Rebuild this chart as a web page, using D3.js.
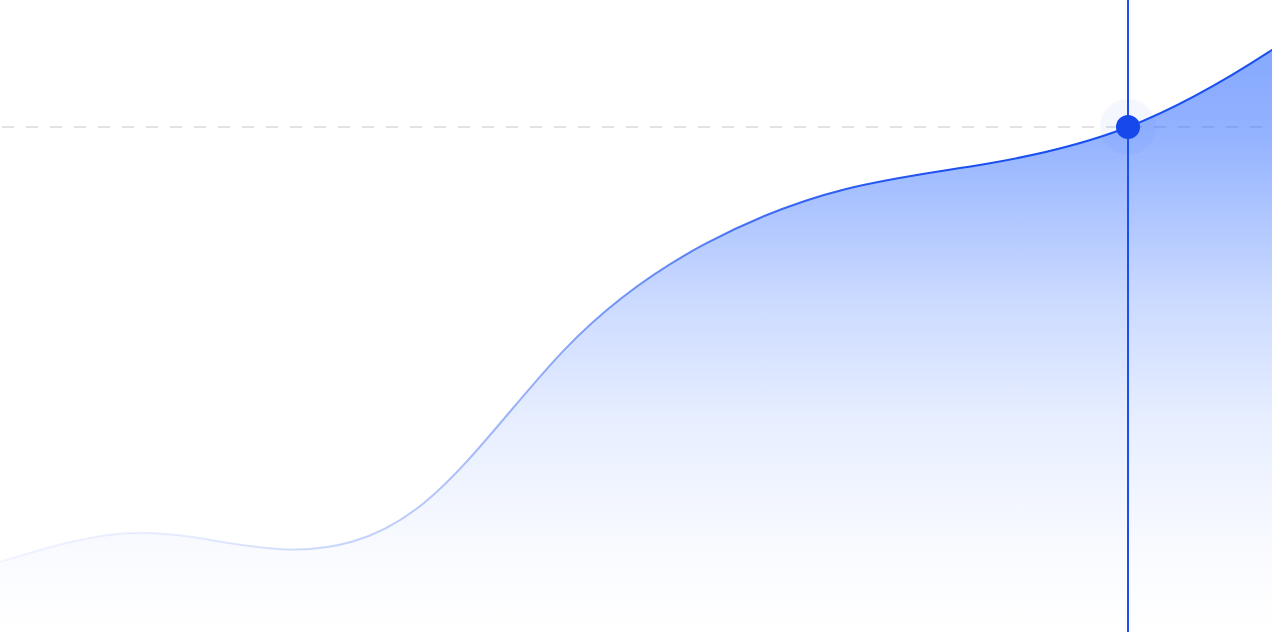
<!DOCTYPE html>
<html>
<head>
<meta charset="utf-8">
<script src="https://cdn.jsdelivr.net/npm/d3@7"></script>
<style>
  html, body { margin: 0; padding: 0; background: #ffffff; overflow: hidden; }
  #chart { width: 1272px; height: 632px; }
</style>
</head>
<body>
<div id="chart"></div>
<script>
// data (the last point sits just past the right edge)
const points = [0, 1, 2, 3, 4, 5, 6, 7, 8, 9, 10]
const values = [11.1, 15.7, 13.1, 20.3, 44.6, 61.4, 70.1, 74.1, 79.9, 91.8, 107.6]
const activeIndex = 8

const width = 1272
const height = 632
const blue = '#1a4ff0'

const x = d3.scaleLinear().domain([0, 9]).range([0, 1269])
const y = d3.scaleLinear().domain([0, 100]).range([height, 0])

const svg = d3.select('#chart')
  .append('svg')
  .attr('width', width)
  .attr('height', height)
  .style('overflow', 'hidden')

const defs = svg.append('defs')

// area fill fades towards the bottom
const fillGrad = defs.append('linearGradient')
  .attr('id', 'fillGrad')
  .attr('gradientUnits', 'userSpaceOnUse')
  .attr('x1', 0).attr('x2', 0)
  .attr('y1', 0).attr('y2', height)
const fillStops = [[0, 0.62], [0.08, 0.58], [0.21, 0.52], [0.475, 0.25], [0.665, 0.115], [0.87, 0.03], [1, 0]]
fillGrad.selectAll('stop')
  .data(fillStops)
  .enter()
  .append('stop')
  .attr('offset', d => d[0])
  .attr('stop-color', '#2f6bff')
  .attr('stop-opacity', d => d[1])

// line fades in from the left
const lineGrad = defs.append('linearGradient')
  .attr('id', 'lineGrad')
  .attr('gradientUnits', 'userSpaceOnUse')
  .attr('x1', 0).attr('x2', width)
  .attr('y1', 0).attr('y2', 0)
const lineStops = [[0, 0.05], [0.15, 0.1], [0.33, 0.3], [0.5, 0.55], [0.62, 0.85], [0.75, 1], [1, 1]]
lineGrad.selectAll('stop')
  .data(lineStops)
  .enter()
  .append('stop')
  .attr('offset', d => d[0])
  .attr('stop-color', blue)
  .attr('stop-opacity', d => d[1])

const data = points.map((p, i) => ({ p: p, v: values[i] }))
const active = data[activeIndex]

const curve = d3.curveNatural

const area = d3.area()
  .x(d => x(d.p))
  .y0(height)
  .y1(d => y(d.v))
  .curve(curve)

const line = d3.line()
  .x(d => x(d.p))
  .y(d => y(d.v))
  .curve(curve)

// dashed guide at the active value, under the area
svg.append('line')
  .attr('x1', 0)
  .attr('x2', width)
  .attr('y1', y(active.v))
  .attr('y2', y(active.v))
  .attr('stroke', '#e3e3e3')
  .attr('stroke-width', 2)
  .attr('stroke-dasharray', '12 12')
  .attr('stroke-dashoffset', -2)

svg.append('circle')
  .attr('cx', x(active.p))
  .attr('cy', y(active.v))
  .attr('r', 28)
  .attr('fill', '#2563eb')
  .attr('fill-opacity', 0.05)

svg.append('path')
  .datum(data)
  .attr('d', area)
  .attr('fill', 'url(#fillGrad)')

svg.append('path')
  .datum(data)
  .attr('d', line)
  .attr('fill', 'none')
  .attr('stroke', 'url(#lineGrad)')
  .attr('stroke-width', 2)

// vertical marker
svg.append('line')
  .attr('x1', x(active.p))
  .attr('x2', x(active.p))
  .attr('y1', 0)
  .attr('y2', height)
  .attr('stroke', blue)
  .attr('stroke-width', 2)

svg.append('circle')
  .attr('cx', x(active.p))
  .attr('cy', y(active.v))
  .attr('r', 12)
  .attr('fill', '#1648ec')
</script>
</body>
</html>
